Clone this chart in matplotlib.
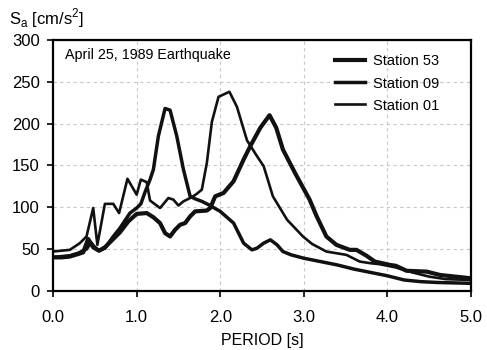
import matplotlib
matplotlib.use("Agg")
import matplotlib.pyplot as plt
from matplotlib.ticker import FormatStrFormatter

plt.rcParams["font.family"] = ["Liberation Sans", "DejaVu Sans"]

# Station 53 - response spectrum (thickest line)
t53 = [0.0, 0.1, 0.2, 0.3, 0.36, 0.42, 0.48, 0.55, 0.62, 0.7, 0.8, 0.9, 1.0,
       1.12, 1.2, 1.28, 1.34, 1.4, 1.46, 1.52, 1.58, 1.64, 1.7, 1.84, 1.88,
       1.94, 2.04, 2.16, 2.28, 2.36, 2.48, 2.59, 2.67, 2.75, 2.9, 3.07, 3.15,
       3.27, 3.39, 3.55, 3.63, 3.75, 3.85, 4.03, 4.1, 4.23, 4.47, 4.63, 5.0]
sa53 = [40, 40, 41, 44, 46, 62, 52, 48, 52, 60, 70, 83, 92,
        93, 88, 81, 69, 65, 73, 79, 81, 89, 95, 96, 99,
        113, 117, 131, 157, 173, 195, 210, 195, 169, 140, 109, 90,
        65, 55, 49, 49, 42, 35, 31, 30, 24, 23, 19, 15]

# Station 09 - response spectrum (medium line)
t09 = [0.0, 0.1, 0.2, 0.3, 0.4, 0.45, 0.5, 0.55, 0.62, 0.72, 0.8, 0.92,
       1.0, 1.05, 1.1, 1.16, 1.2, 1.26, 1.34, 1.4, 1.48, 1.56, 1.64, 1.7,
       1.78, 1.86, 2.0, 2.16, 2.28, 2.38, 2.44, 2.52, 2.6, 2.68, 2.75, 2.85,
       3.0, 3.2, 3.4, 3.6, 3.8, 4.0, 4.2, 4.4, 4.6, 5.0]
sa09 = [40, 41, 42, 45, 50, 58, 52, 48, 51, 65, 75, 93,
        99, 104, 118, 133, 145, 185, 218, 216, 185, 145, 113, 110,
        107, 103, 95, 81, 57, 49, 51, 57, 61, 55, 47, 43,
        39, 35, 31, 26, 22, 18, 13, 11, 10, 9]

# Station 01 - response spectrum (thin line)
t01 = [0.0, 0.2, 0.32, 0.4, 0.48, 0.53, 0.62, 0.72, 0.79, 0.89, 1.0, 1.05,
       1.12, 1.16, 1.28, 1.38, 1.44, 1.5, 1.56, 1.66, 1.72, 1.78, 1.84,
       1.9, 1.98, 2.11, 2.2, 2.32, 2.44, 2.52, 2.63, 2.8, 2.99, 3.1, 3.27,
       3.51, 3.67, 3.8, 3.9, 4.0, 4.1, 4.3, 4.5, 4.7, 5.0]
sa01 = [47, 49, 57, 65, 99, 55, 104, 104, 93, 134, 115, 133,
        130, 108, 99, 111, 109, 102, 107, 112, 116, 121, 153,
        202, 232, 238, 220, 180, 161, 149, 113, 85, 65, 56, 47,
        43, 35, 33, 32, 30, 28, 22, 17, 14, 13]

fig = plt.figure(figsize=(4.87, 3.5), dpi=100)
ax = fig.add_axes([0.109, 0.169, 0.858, 0.717])

ax.plot(t53, sa53, color="#111111", lw=3.0, label="Station 53", solid_joinstyle="round")
ax.plot(t09, sa09, color="#111111", lw=2.5, label="Station 09", solid_joinstyle="round")
ax.plot(t01, sa01, color="#111111", lw=1.9, label="Station 01", solid_joinstyle="round")

ax.set_xlim(0, 5)
ax.set_ylim(0, 300)
ax.set_xticks([0, 1, 2, 3, 4, 5])
ax.set_yticks([0, 50, 100, 150, 200, 250, 300])
ax.xaxis.set_major_formatter(FormatStrFormatter("%.1f"))
ax.grid(True, color="#c8c8c8", linestyle=(0, (3, 3)), linewidth=0.8)
ax.set_axisbelow(True)
ax.tick_params(direction="out", length=4.5, width=1.2, labelsize=12)
ax.tick_params(axis="x", pad=9)
ax.tick_params(axis="y", pad=5)
for sp in ax.spines.values():
    sp.set_linewidth(1.6)

ax.set_xlabel("PERIOD [s]", fontsize=11.5, labelpad=6)
fig.text(0.018, 0.948, r"S$_\mathregular{a}$ [cm/s$^\mathregular{2}$]", fontsize=12,
         ha="left", va="center")
ax.text(0.028, 0.94, "April 25, 1989 Earthquake", transform=ax.transAxes,
        fontsize=10.3, ha="left", va="center")

ax.legend(loc="upper right", bbox_to_anchor=(0.96, 1.0), frameon=False, fontsize=10.5,
          handlelength=2.0, handletextpad=0.6, labelspacing=0.55, borderaxespad=0.6)

fig.savefig("out.png", dpi=100)
